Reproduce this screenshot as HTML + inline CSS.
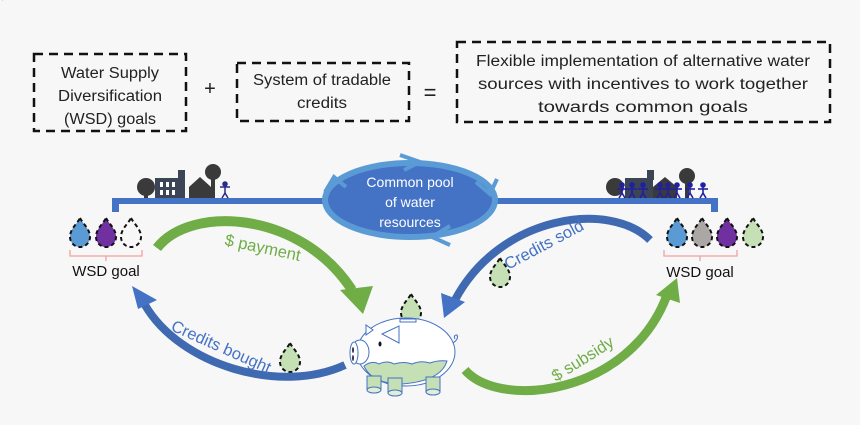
<!DOCTYPE html>
<html><head><meta charset="utf-8"><style>
html,body{margin:0;padding:0;background:#f7f7f7;}
svg{display:block;font-family:"Liberation Sans",sans-serif;}
</style></head><body>
<svg width="860" height="425" viewBox="0 0 860 425" xmlns="http://www.w3.org/2000/svg">
<rect width="860" height="425" fill="#f7f7f7"/>
<g fill="none" stroke="#111" stroke-width="2.5" stroke-dasharray="9,6">
<rect x="34" y="54" width="152" height="77"/>
<rect x="237" y="63" width="172" height="58"/>
<rect x="457" y="42" width="373" height="80"/>
</g>
<g font-size="15.5" fill="#222" text-anchor="middle">
<text x="110" y="78" textLength="98" lengthAdjust="spacingAndGlyphs">Water Supply</text>
<text x="110" y="101" textLength="104" lengthAdjust="spacingAndGlyphs">Diversification</text>
<text x="110" y="124" textLength="92" lengthAdjust="spacingAndGlyphs">(WSD) goals</text>
<text x="322" y="85" textLength="138" lengthAdjust="spacingAndGlyphs">System of tradable</text>
<text x="322" y="108" textLength="50" lengthAdjust="spacingAndGlyphs">credits</text>
<text x="643" y="66" textLength="334" lengthAdjust="spacingAndGlyphs">Flexible implementation of alternative water</text>
<text x="643" y="89" textLength="330" lengthAdjust="spacingAndGlyphs">sources with incentives to work together</text>
<text x="643" y="112" textLength="210" lengthAdjust="spacingAndGlyphs">towards common goals</text>
<text x="210" y="95" font-size="20">+</text>
<text x="430" y="100" font-size="22">=</text>
</g>
<!-- pipe -->
<rect x="113" y="198" width="604" height="6" fill="#4472c4"/>
<rect x="112" y="198" width="7" height="14" fill="#4472c4"/>
<rect x="711" y="198" width="7" height="14" fill="#4472c4"/>
<!-- village left -->
<g fill="#3a3a3a">
<circle cx="146" cy="187" r="9"/><rect x="144" y="190" width="4" height="8"/>
<rect x="155" y="178" width="30" height="20" fill="#3b4555"/><rect x="178" y="170" width="7" height="10" fill="#3b4555"/>
<polygon points="189,187 200,177 211,187 211,198 189,198"/>
<circle cx="213" cy="172" r="8"/><rect x="211" y="178" width="4" height="20"/>
</g>
<g fill="#fff"><rect x="160" y="182" width="3" height="5"/><rect x="166" y="182" width="3" height="5"/><rect x="172" y="182" width="3" height="5"/><rect x="160" y="190" width="3" height="5"/><rect x="166" y="190" width="3" height="5"/><rect x="172" y="190" width="3" height="5"/></g>
<g stroke="#2a2a8a" stroke-width="1.5" fill="#2a2a8a"><circle cx="225" cy="184" r="2"/><line x1="225" y1="186" x2="225" y2="193"/><line x1="220" y1="187" x2="230" y2="187"/><line x1="225" y1="193" x2="222" y2="198"/><line x1="225" y1="193" x2="228" y2="198"/></g>
<!-- village right -->
<g fill="#3a3a3a">
<circle cx="615" cy="187" r="9"/>
<rect x="625" y="178" width="28" height="20" fill="#3b4555"/><rect x="647" y="170" width="7" height="10" fill="#3b4555"/>
<polygon points="653,187 665,177 677,187 677,198 653,198"/>
<circle cx="687" cy="176" r="8"/><rect x="685" y="180" width="4" height="18"/>
</g>
<g stroke="#2020a0" stroke-width="1.6" fill="#2020a0">
<g id="p"><circle cx="0" cy="-13" r="2"/><line x1="0" y1="-11" x2="0" y2="-5"/><line x1="-5" y1="-9" x2="5" y2="-9"/><line x1="0" y1="-5" x2="-3" y2="0"/><line x1="0" y1="-5" x2="3" y2="0"/></g>
<use href="#p" x="622" y="198"/><use href="#p" x="632" y="198"/><use href="#p" x="643" y="198"/><use href="#p" x="660" y="198"/><use href="#p" x="668" y="198"/><use href="#p" x="677" y="198"/><use href="#p" x="690" y="198"/><use href="#p" x="703" y="198"/>
</g>
<!-- pool -->
<ellipse cx="410" cy="200" rx="85" ry="37" fill="#4472c4" stroke="#5b9bd5" stroke-width="6"/>
<g fill="none" stroke="#5b9bd5" stroke-width="4"><polyline points="400,155 420,162 404,170"/><polyline points="476,182 490,194 497,179"/><polyline points="450,226 432,237 450,245"/><polyline points="325,192 334,177 346,187"/></g>
<g fill="#fff" font-size="14" text-anchor="middle">
<text x="410" y="187">Common pool</text><text x="410" y="207">of water</text><text x="410" y="227">resources</text>
</g>
<!-- drops -->
<defs><path id="d" d="M0,-14 C3,-8 10,-3 10,5 A10,10 0 0 1 -10,5 C-10,-3 -3,-8 0,-14 Z"/></defs>
<g stroke="#111" stroke-width="2" stroke-dasharray="4,3">
<use href="#d" x="80" y="232" fill="#5b9bd5"/><use href="#d" x="106" y="232" fill="#7030a0"/><use href="#d" x="131" y="232" fill="none"/>
<use href="#d" x="677" y="232" fill="#5b9bd5"/><use href="#d" x="702" y="232" fill="#aaa7a4"/><use href="#d" x="727" y="232" fill="#7030a0"/><use href="#d" x="753" y="232" fill="#c5e0b4"/>
<use href="#d" x="500" y="272" fill="#c5e0b4"/><use href="#d" x="290" y="357" fill="#c5e0b4"/><use href="#d" x="411" y="308" fill="#c5e0b4"/>
</g>
<g fill="none" stroke="#f4a0a0" stroke-width="1.3">
<path d="M70,250 v6 h72 v-6 M106,256 v5"/><path d="M664,250 v6 h73 v-6 M700,256 v5"/>
</g>
<g font-size="15" fill="#111" text-anchor="middle"><text x="106" y="276">WSD goal</text><text x="700" y="277">WSD goal</text></g>
<!-- arrows -->
<path d="M157,248 C190,205 300,210 352,290" fill="none" stroke="#70ad47" stroke-width="10"/>
<polygon points="340,290 373,286 363,314" fill="#70ad47"/>
<path d="M345,365 C280,395 180,365 145,305" fill="none" stroke="#3f69b0" stroke-width="8"/>
<polygon points="132,286 157,300 138,309" fill="#4472c4"/>
<path d="M650,240 C610,200 500,215 455,300" fill="none" stroke="#3f69b0" stroke-width="8"/>
<polygon points="444,318 441,293 465,302" fill="#4472c4"/>
<path d="M465,370 C500,410 630,395 667,295" fill="none" stroke="#70ad47" stroke-width="9"/>
<polygon points="677,278 680,303 656,295" fill="#70ad47"/>
<g font-size="16.5">
<text transform="translate(224,245) rotate(12)" fill="#70ad47">$ payment</text>
<text transform="translate(170,330) rotate(24)" fill="#4472c4">Credits bought</text>
<text transform="translate(508,270) rotate(-28)" fill="#4472c4">Credits sold</text>
<text transform="translate(556,382) rotate(-32)" fill="#70ad47">$ subsidy</text>
</g>
<!-- pig -->
<g stroke="#4472c4" stroke-width="1">
<ellipse cx="406" cy="352" rx="49" ry="34" fill="#fff"/>
<path d="M364,366 q8,-6 15,-2 q8,-4 15,0 q10,-3 18,0 q9,-4 18,-1 q8,-3 17,-2 q-6,20 -45,23 q-30,0 -38,-18z" fill="#c5e0b4"/>
<rect x="367" y="376" width="14" height="14" fill="#c5e0b4"/><ellipse cx="374" cy="390" rx="7" ry="3" fill="#dfeed6"/>
<rect x="388" y="378" width="14" height="15" fill="#c5e0b4"/><ellipse cx="395" cy="393" rx="7" ry="3" fill="#dfeed6"/>
<rect x="426" y="377" width="14" height="15" fill="#c5e0b4"/><ellipse cx="433" cy="392" rx="7" ry="3" fill="#dfeed6"/>
<ellipse cx="360" cy="352" rx="9" ry="12" fill="#fff"/>
<ellipse cx="354" cy="353" rx="4" ry="11" fill="#fff"/>
<polygon points="382,334 399,326 399,343" fill="#fff"/>
<polygon points="366,325 366,335 373,330" fill="#fff"/>
<rect x="400" y="319" width="16" height="3" fill="#fff"/>
<path d="M453,343 q6,-4 4,-8 q-4,0 -2,4" fill="none"/>
</g>
<ellipse cx="380" cy="344" rx="1.5" ry="2.5" fill="#112"/>
<ellipse cx="353" cy="350" rx="1" ry="3" fill="#335"/><ellipse cx="353" cy="358" rx="1" ry="3" fill="#335"/>
</svg>
</body></html>
